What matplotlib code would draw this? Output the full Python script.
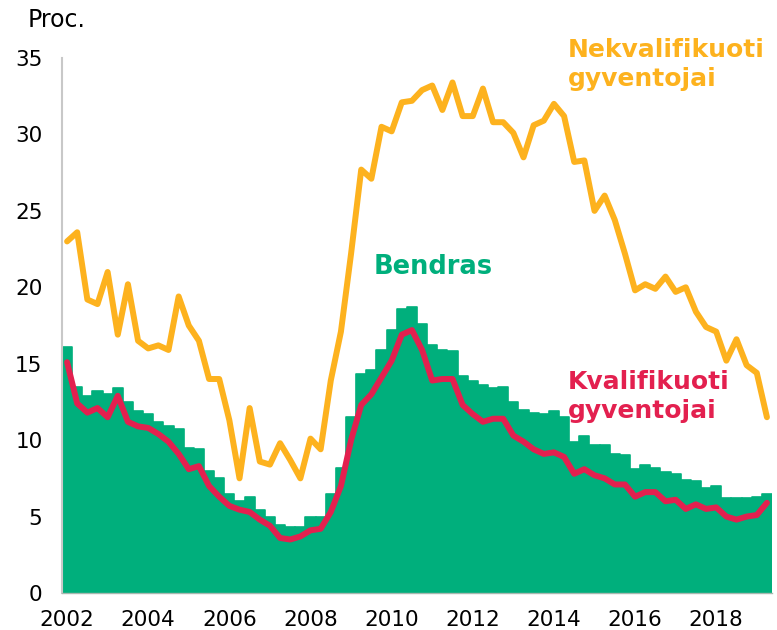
"""
Unemployment rate by qualification, quarterly 2002-2019
"""
import numpy as np
import matplotlib
matplotlib.use("Agg")
import matplotlib.pyplot as plt

# quarterly values, 2002 Q1 - 2019 Q2
years = list(range(2002, 2020, 2))

bendras = [16.1, 13.5, 12.9, 13.2, 13.0, 13.4, 12.5, 11.9, 11.7, 11.2,
           10.9, 10.7, 9.5, 9.4, 8.0, 7.5, 6.5, 6.0, 6.3, 5.4,
           5.0, 4.45, 4.3, 4.3, 4.95, 4.95, 6.5, 8.2, 11.5, 14.3,
           14.6, 15.9, 17.2, 18.6, 18.7, 17.6, 16.2, 15.9, 15.8, 14.2,
           13.9, 13.6, 13.4, 13.5, 12.5, 12.0, 11.8, 11.7, 11.9, 11.5,
           9.9, 10.3, 9.7, 9.7, 9.1, 9.0, 8.1, 8.4, 8.2, 7.9,
           7.8, 7.4, 7.3, 6.9, 7.0, 6.2, 6.2, 6.2, 6.3, 6.5]

nekvalifikuoti = [23.0, 23.6, 19.2, 18.9, 21.0, 16.9, 20.2, 16.5, 16.0, 16.2,
                  15.9, 19.4, 17.5, 16.5, 14.0, 14.0, 11.3, 7.5, 12.1, 8.6,
                  8.4, 9.8, 8.7, 7.5, 10.1, 9.4, 13.9, 17.1, 22.2, 27.7,
                  27.1, 30.5, 30.2, 32.1, 32.2, 32.9, 33.2, 31.6, 33.4, 31.2,
                  31.2, 33.0, 30.8, 30.8, 30.1, 28.5, 30.6, 30.9, 32.0, 31.2,
                  28.2, 28.3, 25.0, 26.0, 24.4, 22.2, 19.8, 20.2, 19.9, 20.7,
                  19.7, 20.0, 18.4, 17.4, 17.1, 15.2, 16.6, 14.9, 14.4, 11.5]

kvalifikuoti = [15.1, 12.4, 11.8, 12.1, 11.5, 12.9, 11.2, 10.9, 10.8, 10.4,
                9.9, 9.1, 8.1, 8.3, 7.0, 6.3, 5.7, 5.45, 5.3, 4.8,
                4.4, 3.6, 3.5, 3.7, 4.1, 4.2, 5.3, 7.0, 10.0, 12.3,
                13.0, 14.1, 15.2, 16.9, 17.2, 15.9, 13.9, 14.0, 14.0, 12.3,
                11.7, 11.2, 11.4, 11.4, 10.3, 9.9, 9.4, 9.1, 9.2, 8.9,
                7.8, 8.1, 7.7, 7.5, 7.1, 7.1, 6.3, 6.6, 6.6, 6.0,
                6.1, 5.5, 5.8, 5.5, 5.6, 5.0, 4.8, 5.0, 5.1, 5.9]

GREEN = "#00AF7C"
ORANGE = "#FDB21E"
RED = "#E3204F"

x = np.arange(len(bendras))

fig = plt.figure(figsize=(7.77, 6.30), dpi=100)
ax = fig.add_axes([62 / 777, 37 / 630, 710 / 777, 535 / 630])

# total as columns, the two groups as lines
ax.bar(x, bendras, width=1.0, color=GREEN, edgecolor=GREEN,
       linewidth=1.2, joinstyle="round", zorder=1)
ax.plot(x, nekvalifikuoti, color=ORANGE, linewidth=4.3,
        solid_joinstyle="round", solid_capstyle="round", zorder=2)
ax.plot(x, kvalifikuoti, color=RED, linewidth=4.3,
        solid_joinstyle="round", solid_capstyle="round", zorder=3)

ax.set_xlim(-0.5, len(x) - 0.5)
ax.set_ylim(0, 35)
ax.set_yticks(range(0, 36, 5))
ax.set_xticks(x[::8])
ax.set_xticklabels([str(y) for y in years])

ax.tick_params(axis="both", length=0, labelsize=15.5, colors="black")
ax.tick_params(axis="y", pad=14)
ax.tick_params(axis="x", pad=12.5)

for side in ["top", "right"]:
    ax.spines[side].set_visible(False)
ax.spines["left"].set_color("#c8c8c8")
ax.spines["left"].set_linewidth(1.5)
ax.spines["bottom"].set_color("#a8b8b0")
ax.spines["bottom"].set_linewidth(1.0)

# labels (va=baseline puts the last line on y)
fig.text(28 / 777, 1 - 27 / 630, "Proc.", fontsize=17, va="baseline")
ax.text(49.4, 33.2, "Nekvalifikuoti\ngyventojai", color=ORANGE,
        fontsize=18, fontweight="bold", va="baseline", ha="left",
        linespacing=1.24)
ax.text(49.4, 11.45, "Kvalifikuoti\ngyventojai", color=RED,
        fontsize=18, fontweight="bold", va="baseline", ha="left",
        linespacing=1.24)
ax.text(30.2, 20.9, "Bendras", color=GREEN, fontsize=18.5,
        fontweight="bold", va="baseline", ha="left")

fig.savefig("out.png", dpi=100)
